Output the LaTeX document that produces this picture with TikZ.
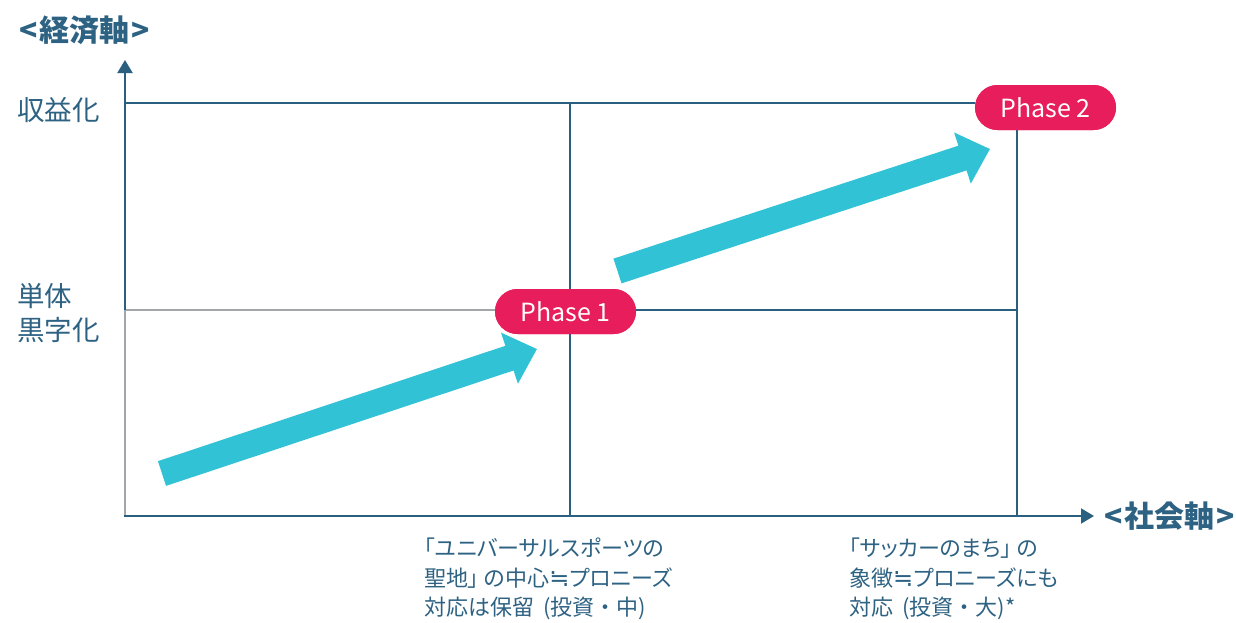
\documentclass[tikz,border=0pt]{standalone}
\usepackage{fontspec}
\setmainfont{Noto Sans CJK JP}
\newfontfamily\notefont{Noto Sans CJK JP}[RawFeature=+palt]
\newfontfamily\plainjp{Noto Sans CJK JP}
\newfontfamily\symfont{DejaVu Sans}
\usetikzlibrary{arrows.meta}
\definecolor{axblue}{HTML}{2B5F80}
\definecolor{txblue}{HTML}{2E6283}
\definecolor{axgray}{HTML}{A2A7AB}
\definecolor{cyanarrow}{HTML}{31C2D5}
\definecolor{phasered}{HTML}{E81D5B}
\newcommand{\approxeq}{{\symfont\fontsize{24}{29.5}\selectfont ≒}}
\newcommand{\jpdot}{{\plainjp ・}}
\newcommand{\wsp}{\hspace{9pt}}
\tikzset{
  axisline/.style={draw=axblue, line width=2pt},
  grayline/.style={draw=axgray, line width=2pt},
  axisarrow/.style={axisline, -{Triangle[length=13pt,width=15pt]}},
  bigarrow/.style={draw=cyanarrow, line width=26pt, -{Triangle[length=29pt,width=52pt]}},
  phasebox/.style={fill=phasered, text=white, rounded corners=22.5pt, minimum width=141pt,
    minimum height=45pt, inner sep=0pt, font=\fontsize{25}{28}\selectfont},
  axlabel/.style={text=txblue, inner sep=0pt, font=\fontsize{30}{32}\selectfont\bfseries},
  ylabel/.style={text=txblue, inner sep=0pt, anchor=west, align=left, font=\fontsize{27.5}{34}\selectfont},
  xnote/.style={text=txblue, inner sep=0pt, anchor=north west, align=left, font=\notefont\fontsize{22}{29.5}\selectfont},
}
\begin{document}
\begin{tikzpicture}[x=1pt,y=-1pt]
\useasboundingbox (0,0) rectangle (1236,622);
% coordinates
\coordinate (O) at (125,517);
\coordinate (Ymid) at (125,310);
\coordinate (Ytop) at (125,60);
\coordinate (Ytopline) at (125,103);
\coordinate (Xend) at (1094,516);
\coordinate (Xo) at (124,516);
\coordinate (Vmidtop) at (570,103);
\coordinate (Vmidbot) at (570,516);
\coordinate (Vrbot) at (1017,516);
\coordinate (Hr) at (1017,310);
% phase nodes
\node[phasebox] (p1) at (565.5,311.5) {Phase 1};
\node[phasebox] (p2) at (1045.5,107.5) {Phase 2};
% grid lines
\draw[axisline] (Ytopline) -- (p2.west |- Ytopline);
\draw[axisline] (Vmidtop) -- (Vmidbot);
\draw[axisline] (p2.south -| Vrbot) -- (Vrbot);
\draw[grayline] (Ymid) -- (p1.west |- Ymid);
\draw[axisline] (p1.east |- Ymid) -- (Hr);
\draw[grayline] (O) -- (Ymid);
\draw[axisarrow] (Ymid) -- (Ytop);
\draw[axisarrow] (Xo) -- (Xend);
% redraw phase nodes on top
\node[phasebox] at (p1) {Phase 1};
\node[phasebox] at (p2) {Phase 2};
% big arrows
\coordinate (a1s) at (162,473.5);
\coordinate (a1e) at (537,349);
\coordinate (a2s) at (617.5,271);
\coordinate (a2e) at (990,149);
\draw[bigarrow] (a1s) -- (a1e);
\draw[bigarrow] (a2s) -- (a2e);
% labels
\node[axlabel, anchor=west] (yl) at (19,30) {<\kern2pt 経済軸\kern2pt>};
\node[axlabel, anchor=west] (xl) at (1104,516) {<\kern2pt 社会軸\kern2pt>};
\node[ylabel] (l1) at (17,110) {収益化};
\node[ylabel] (l2) at (17,313) {単体\\黒字化};
\node[xnote] (n1) at (424,538) {「ユニバーサルスポーツの\\聖地」 の中心\approxeq プロニーズ\\対応は保留\wsp(投資\jpdot 中)};
\node[xnote] (n2) at (849,538) {「サッカーのまち」 の\\象徴\approxeq プロニーズにも\\対応\wsp(投資\jpdot 大)*};
\end{tikzpicture}
\end{document}
